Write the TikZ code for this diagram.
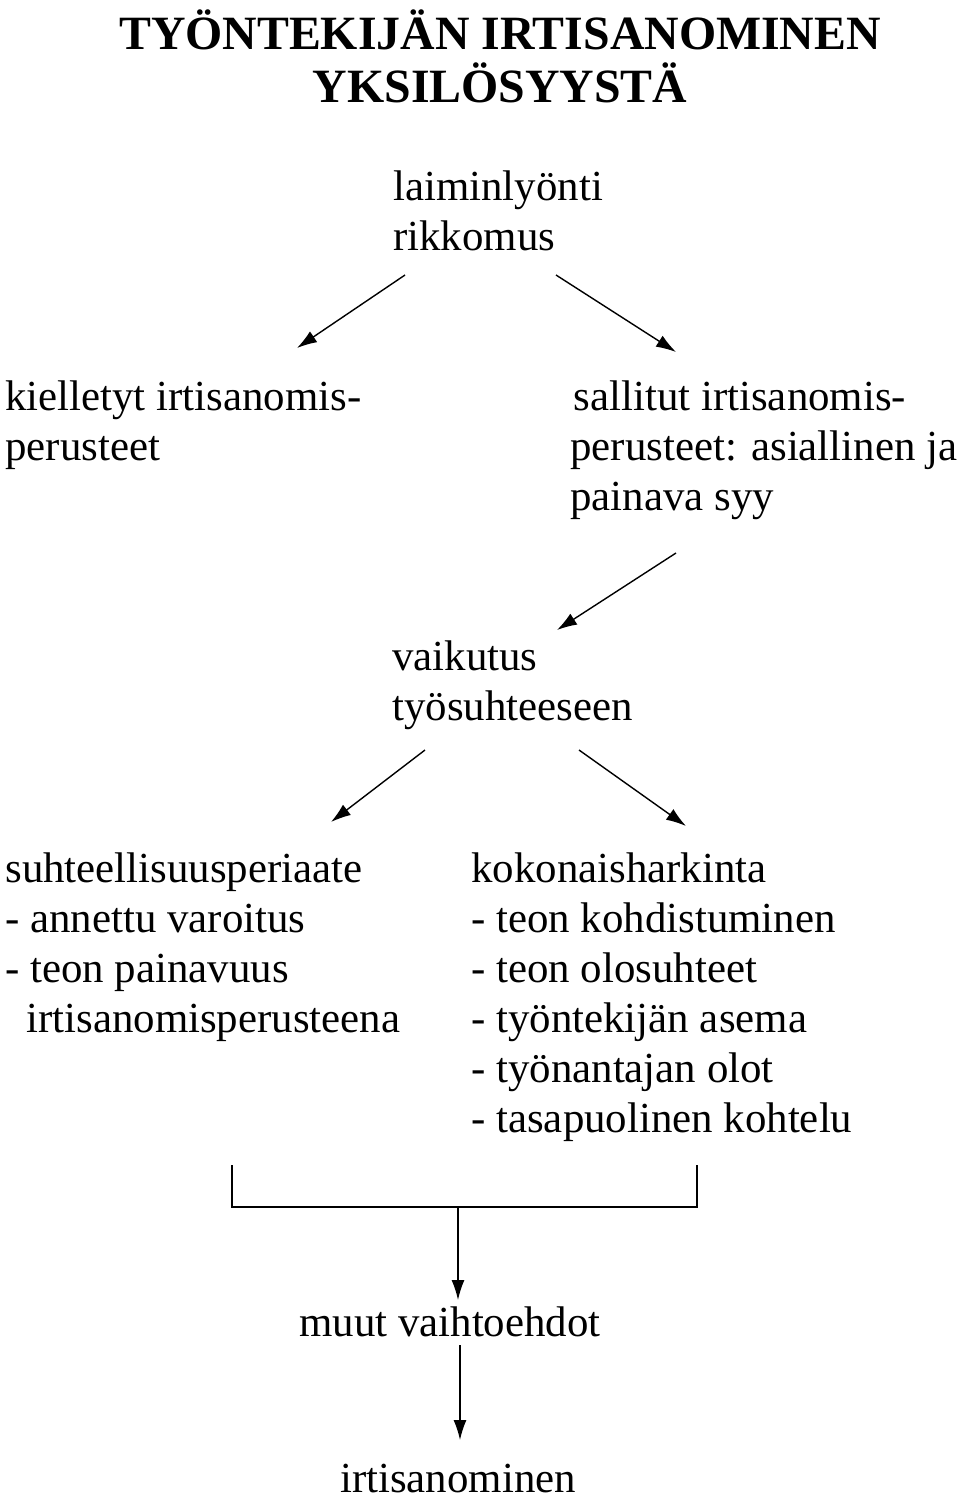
\documentclass[tikz,border=0pt]{standalone}
\usepackage{fontspec}
\setmainfont{Liberation Serif}
\usetikzlibrary{arrows.meta, positioning}

\begin{document}
\begin{tikzpicture}[
  x=0.02cm, y=-0.02cm,
  >={Latex[length=4mm,width=2.6mm]},
  font=\fontsize{24.4}{28.45}\selectfont,
  txt/.style={inner sep=0pt, align=left, anchor=north west},
  conn/.style={->, line width=0.8pt},
]
\useasboundingbox (0,0) rectangle (960,1498);

% --- Title ---
\node[inner sep=0pt, align=center, font=\fontsize{27.2}{30}\selectfont\bfseries] (TITLE) at (500,56) {TYÖNTEKIJÄN IRTISANOMINEN\\ YKSILÖSYYSTÄ};

% --- Levels ---
\node[txt] (CAUSE) at (393,170) {laiminlyönti\\ rikkomus};
\node[txt] (FORBID) at (5,380) {kielletyt irtisanomis-\\ perusteet};
\node[txt] (ALLOW) at (570,380) {\hspace{2pt}sallitut irtisanomis-\\ perusteet: asiallinen ja\\ painava syy};
\node[txt] (EFFECT) at (392,640) {vaikutus\\ työsuhteeseen};
\node[txt] (PROP) at (5,852) {suhteellisuusperiaate\\ - annettu varoitus\\ - teon painavuus\\ \hspace{12pt}irtisanomisperusteena};
\node[txt] (WHOLE) at (471,852) {kokonaisharkinta\\ - teon kohdistuminen\\ - teon olosuhteet\\ - työntekijän asema\\ - työnantajan olot\\ - tasapuolinen kohtelu};
\node[inner sep=0pt] (OTHER) at (450,1322) {muut vaihtoehdot};
\node[inner sep=0pt] (END) at (458,1478) {irtisanominen};

% --- Arrow ends ---
\coordinate (c1) at (405,275);  \coordinate (f1) at (297,348);
\coordinate (c2) at (556,275);  \coordinate (a1) at (676,352);
\coordinate (a2) at (676,553);  \coordinate (e1) at (557,630);
\coordinate (e2) at (425,750);  \coordinate (p1) at (331,822);
\coordinate (e3) at (579,750);  \coordinate (w1) at (686,826);
\coordinate (bl) at (232,1165); \coordinate (br) at (697,1165);
\coordinate (bm) at (458,1207); \coordinate (o1) at (458,1300);
\coordinate (o2) at (460,1345); \coordinate (n1) at (460,1440);

% --- Arrows ---
\draw[conn] (c1) -- (f1);
\draw[conn] (c2) -- (a1);
\draw[conn] (a2) -- (e1);
\draw[conn] (e2) -- (p1);
\draw[conn] (e3) -- (w1);
\draw[line width=0.8pt] (bl) |- (bm) -| (br);
\draw[conn] (bm) -- (o1);
\draw[conn] (o2) -- (n1);

\end{tikzpicture}
\end{document}
